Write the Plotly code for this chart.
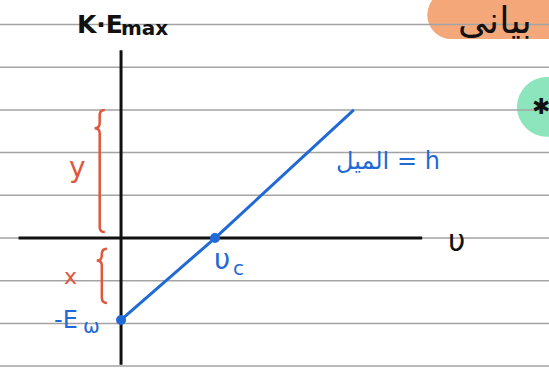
import plotly.graph_objects as go

# Photoelectric effect: K.E_max against frequency
work_function = 1.92      # magnitude of the intercept -E_w
cutoff_freq = 2.2         # threshold frequency v_c
freq_end = 5.45           # right end of the drawn line
ke_end = 3.0              # K.E_max at the right end

line_freq = [0, cutoff_freq, freq_end]
line_ke = [-work_function, 0, ke_end]
marked_freq = [0, cutoff_freq]
marked_ke = [-work_function, 0]

x_axis_span = [-2.4, 7.05]
y_axis_span = [-2.97, 4.4]
ruled_levels = list(range(-3, 6))

BLUE = "#1f6ad6"
RED = "#e0573a"
INK = "#111111"
HAND = "DejaVu Sans"

W, H = 549, 372
X_RANGE = [-2.834, 10.02]
Y_RANGE = [-3.138, 5.574]

fig = go.Figure()

# notebook ruling
for lvl in ruled_levels:
    fig.add_trace(go.Scatter(x=[X_RANGE[0], X_RANGE[1]], y=[lvl, lvl], mode="lines",
                             line=dict(color="#a3a3a3", width=1.5),
                             hoverinfo="skip", showlegend=False))

# axes
fig.add_trace(go.Scatter(x=x_axis_span, y=[0, 0], mode="lines",
                         line=dict(color=INK, width=3), showlegend=False))
fig.add_trace(go.Scatter(x=[0, 0], y=y_axis_span, mode="lines",
                         line=dict(color=INK, width=3), showlegend=False))

# straight line with slope h
fig.add_trace(go.Scatter(x=line_freq, y=line_ke, mode="lines",
                         line=dict(color=BLUE, width=3), showlegend=False))
fig.add_trace(go.Scatter(x=marked_freq, y=marked_ke, mode="markers",
                         marker=dict(color=BLUE, size=10), showlegend=False))


def brace(xm, top, bot, w=0.24, f=0.15):
    """Curly brace along x = xm from top to bot, cusp facing left."""
    xr, xl = xm + w / 2, xm - w / 2
    ym = top - f * (top - bot)
    q = 0.12
    return (f"M {xr},{top} Q {xm},{top} {xm},{top - q} "
            f"L {xm},{ym + q} Q {xm},{ym} {xl},{ym} "
            f"Q {xm},{ym} {xm},{ym - q} "
            f"L {xm},{bot + q} Q {xm},{bot} {xr},{bot}")


shapes = [
    dict(type="path", xref="x", yref="y", path=brace(-0.5, ke_end, 0.14),
         line=dict(color=RED, width=2.5)),
    dict(type="path", xref="x", yref="y",
         path=brace(-0.45, -0.25, -work_function + 0.4, f=0.22),
         line=dict(color=RED, width=2.5)),
    # orange tag at the top right (under the ruling)
    dict(type="circle", xref="x", yref="y", layer="below",
         x0=7.17, x1=8.29, y0=4.66, y1=5.79,
         fillcolor="#f4a87a", line=dict(width=0)),
    dict(type="rect", xref="x", yref="y", layer="below",
         x0=7.73, x1=11, y0=4.66, y1=6,
         fillcolor="#f4a87a", line=dict(width=0)),
    # green bullet
    dict(type="circle", xref="x", yref="y", layer="below",
         x0=9.27, x1=10.68, y0=2.37, y1=3.77,
         fillcolor="#8de5bd", line=dict(width=0)),
]

annotations = [
    # axis title K.E_max
    dict(x=-0.5, y=4.99, text="<b>K·E</b>",
         font=dict(size=25, color=INK, family=HAND)),
    dict(x=0.56, y=4.93, text="<b>max</b>",
         font=dict(size=20, color=INK, family=HAND)),
    dict(x=8.75, y=5.1, text="بيانى",
         font=dict(size=37, color=INK, family=HAND)),
    dict(x=9.83, y=3.07, text="✱",
         font=dict(size=22, color=INK, family=HAND)),
    dict(x=6.25, y=1.8, text="الميل = h",
         font=dict(size=24, color=BLUE, family=HAND)),
    dict(x=7.85, y=-0.05, text="υ",
         font=dict(size=30, color=INK, family=HAND)),
    # threshold frequency v_c
    dict(x=2.36, y=-0.5, text="υ",
         font=dict(size=28, color=BLUE, family=HAND)),
    dict(x=2.76, y=-0.7, text="c",
         font=dict(size=20, color=BLUE, family=HAND)),
    # intercept -E_w
    dict(x=-1.3, y=-1.92, text="-E",
         font=dict(size=24, color=BLUE, family=HAND)),
    dict(x=-0.7, y=-2.06, text="ω",
         font=dict(size=20, color=BLUE, family=HAND)),
    dict(x=-1.03, y=1.64, text="y",
         font=dict(size=28, color=RED, family=HAND)),
    dict(x=-1.19, y=-0.91, text="x",
         font=dict(size=22, color=RED, family=HAND)),
]
for a in annotations:
    a["xref"] = "x"
    a["yref"] = "y"
    a["showarrow"] = False
    a["xanchor"] = "center"
    a["yanchor"] = "middle"

fig.update_layout(
    width=W, height=H,
    margin=dict(l=0, r=0, t=0, b=0),
    paper_bgcolor="white", plot_bgcolor="white",
    shapes=shapes, annotations=annotations,
    showlegend=False,
    xaxis=dict(range=X_RANGE, visible=False, fixedrange=True),
    yaxis=dict(range=Y_RANGE, visible=False, fixedrange=True),
)

fig.write_html("out.html")
